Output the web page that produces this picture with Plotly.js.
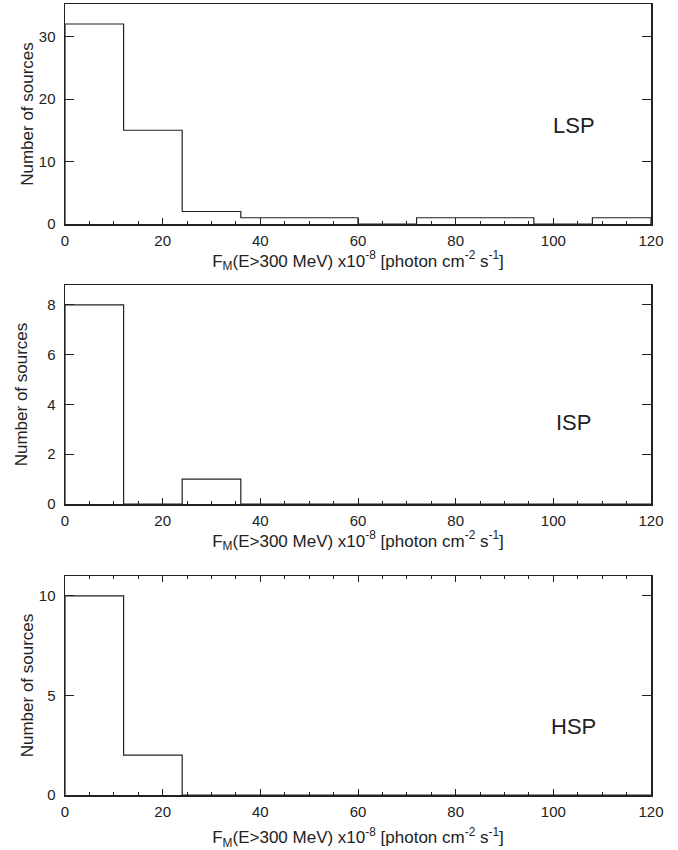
<!DOCTYPE html>
<html>
<head>
<meta charset="utf-8">
<script src="https://cdn.plot.ly/plotly-3.0.1.min.js"></script>
<style>html,body{margin:0;padding:0;background:#fff;}#chart{width:678px;height:850px;}</style>
</head>
<body>
<div id="chart"></div>
<script>
// Bin edges (flux, x10^-8 photon cm^-2 s^-1)
const binEdges = [0, 12, 24, 36, 48, 60, 72, 84, 96, 108, 120];
// Counts per bin
const lspCounts = [32, 15, 2, 1, 1, 0, 1, 1, 0, 1];
const ispCounts = [8, 0, 1, 0, 0, 0, 0, 0, 0, 0];
const hspCounts = [10, 2, 0, 0, 0, 0, 0, 0, 0, 0];
const panelLabels = ["LSP", "ISP", "HSP"];
const yMax = [35.2, 8.8, 11];
const yTickStep = [10, 2, 5];

function stepXY(edges, counts) {
  const xs = [edges[0]], ys = [0];
  for (let i = 0; i < counts.length; i++) {
    xs.push(edges[i], edges[i + 1]);
    ys.push(counts[i], counts[i]);
  }
  xs.push(edges[edges.length - 1]); ys.push(0);
  return {xs, ys};
}

const allCounts = [lspCounts, ispCounts, hspCounts];
const FONT = "Liberation Sans, Arial, Helvetica, sans-serif";
const INK = "#222";
const traces = allCounts.map((c, i) => {
  const s = stepXY(binEdges, c);
  return {
    type: "scatter", mode: "lines", x: s.xs, y: s.ys,
    xaxis: i === 0 ? "x" : "x" + (i + 1),
    yaxis: i === 0 ? "y" : "y" + (i + 1),
    line: {color: INK, width: 1.2},
    hoverinfo: "skip", showlegend: false
  };
});

const H = 850, T = 4, B = 55;
const plotH = H - T - B;
const pix = [[4, 224], [285, 504], [576, 795]];
const domains = pix.map(p => [(H - B - p[1]) / plotH, (H - B - p[0]) / plotH]);

const xTitle = "F<sub>M</sub>(E>300 MeV) x10<sup>-8</sup> [photon cm<sup>-2</sup> s<sup>-1</sup>]";
const xStandoff = [3, 3, 16];
const yStandoff = [1, 15, 1];

const layout = {
  width: 678, height: 850,
  margin: {l: 65, r: 27, t: T, b: B},
  paper_bgcolor: "#fff", plot_bgcolor: "#fff",
  font: {family: FONT, color: INK, size: 15},
  showlegend: false,
  annotations: []
};

for (let i = 0; i < 3; i++) {
  const xk = i === 0 ? "xaxis" : "xaxis" + (i + 1);
  const yk = i === 0 ? "yaxis" : "yaxis" + (i + 1);
  const yref = i === 0 ? "y" : "y" + (i + 1);
  const xref = i === 0 ? "x" : "x" + (i + 1);
  layout[xk] = {
    domain: [0, 1], anchor: yref, range: [0, 120],
    tick0: 0, dtick: 20, ticks: "inside", ticklen: 6, tickwidth: 1, tickcolor: INK,
    minor: {dtick: 5, ticks: "inside", ticklen: 3, tickcolor: INK, tickwidth: 1},
    showline: true, linecolor: INK, linewidth: 1.5,
    mirror: i === 2 ? "ticks" : true,
    showgrid: false, zeroline: false,
    tickfont: {size: 15, family: FONT, color: INK},
    ticklabelstandoff: 2,
    title: {text: xTitle, font: {size: 17, family: FONT, color: INK}, standoff: xStandoff[i]},
    automargin: false, fixedrange: true
  };
  layout[yk] = {
    domain: domains[i], anchor: xref, range: [0, yMax[i]],
    tick0: 0, dtick: yTickStep[i], ticks: "inside", ticklen: 9, tickwidth: 1, tickcolor: INK,
    showline: true, linecolor: INK, linewidth: 1.5, mirror: "ticks",
    showgrid: false, zeroline: false,
    tickfont: {size: 15, family: FONT, color: INK},
    ticklabelstandoff: 5,
    title: {text: "Number of sources", font: {size: 17, family: FONT, color: INK}, standoff: yStandoff[i]},
    automargin: false, fixedrange: true
  };
}

const labelY = [15.8, 3.27, 3.43];
for (let i = 0; i < 3; i++) {
  layout.annotations.push({
    xref: i === 0 ? "x" : "x" + (i + 1),
    yref: i === 0 ? "y" : "y" + (i + 1),
    x: 104.2, y: labelY[i], text: panelLabels[i], showarrow: false,
    font: {size: 22, family: FONT, color: INK}, xanchor: "center", yanchor: "middle"
  });
}

Plotly.newPlot("chart", traces, layout, {staticPlot: true, displayModeBar: false});
</script>
</body>
</html>
